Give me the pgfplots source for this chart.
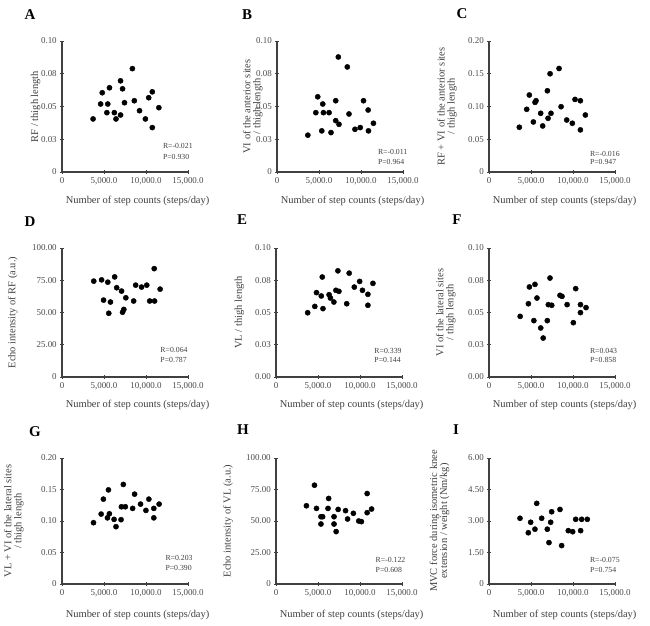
\documentclass[border=0pt]{standalone}
\usepackage{fontspec}
\setmainfont{Liberation Serif}
\usepackage{pgfplots}
\pgfplotsset{compat=1.18}
\newcommand{\twoline}[2]{\begin{tabular}{@{}c@{}}#1\\#2\end{tabular}}
\pgfplotsset{
  panel/.style={
    scale only axis, width=126bp,
    xmin=0, xmax=15000, ymin=0,
    axis lines=left, axis line style={-, line width=1.6bp, black!75},
    xtick={0,5000,10000,15000},
    xticklabels={0,{5,000.0},{10,000.0},{15,000.0}},
    scaled ticks=false,
    tick style={line width=0.9bp, black!75},
    major tick length=3.5bp, tick align=center,
    ticklabel style={font=\fontsize{9}{9}\selectfont, text=black!70},
    xlabel={Number of step counts (steps/day)},
    label style={font=\fontsize{10.5}{9.5}\selectfont, text=black!75},
    xlabel style={at={(axis description cs:0.6,-0.22)}, anchor=center},
    clip=false,
    anchor=south west,
  },
  dots/.style={only marks, mark=*, mark size=2.6bp, mark options={fill=black, draw=black}},
}
\tikzset{stat/.style={anchor=west, font=\fontsize{7.8}{8}\selectfont, text=black!75, inner sep=0pt}}
\begin{document}
\begin{tikzpicture}
\useasboundingbox (0,0) rectangle (650bp,626bp);
% ---------------- A
\begin{axis}[panel, at={(62bp,454bp)}, height=131bp, ymax=0.1,
  ytick={0,0.025,0.05,0.075,0.1}, yticklabels={0,0.03,0.05,0.08,0.10},
  ylabel={RF / thigh length}, ylabel style={at={(axis description cs:-0.21,0.5)}, anchor=center}]
\addplot[dots] coordinates {(3700,0.0405)(4790,0.0605)(4600,0.0519)(5450,0.0519)(5340,0.0453)(5650,0.0643)(6230,0.0453)(6430,0.0405)(6970,0.0696)(6970,0.0435)(7210,0.0635)(7440,0.0529)(8380,0.0789)(8610,0.0544)(9230,0.0468)(9930,0.0405)(10320,0.0567)(10750,0.0612)(10750,0.0339)(11530,0.0491)};
\node[stat] at (rel axis cs:0.80,0.20) {R=-0.021};
\node[stat] at (rel axis cs:0.80,0.115) {P=0.930};
\end{axis}
% ---------------- B
\begin{axis}[panel, at={(277bp,454bp)}, height=131bp, ymax=0.1,
  ytick={0,0.025,0.05,0.075,0.1}, yticklabels={0,0.03,0.05,0.08,0.10},
  ylabel={\twoline{VI of the anterior sites}{/ thigh length}}, ylabel style={at={(axis description cs:-0.19,0.5)}, anchor=center}]
\addplot[dots] coordinates {(3670,0.0281)(4620,0.0453)(4850,0.0574)(5330,0.0314)(5450,0.0519)(5530,0.0453)(6200,0.0453)(6430,0.0301)(6990,0.0544)(6990,0.0392)(7300,0.0878)(7380,0.0364)(8370,0.0802)(8570,0.0443)(9280,0.0326)(9910,0.0339)(10300,0.0544)(10850,0.0473)(10890,0.0314)(11480,0.0372)};
\node[stat] at (rel axis cs:0.80,0.15) {R=-0.011};
\node[stat] at (rel axis cs:0.80,0.08) {P=0.964};
\end{axis}
% ---------------- C
\begin{axis}[panel, at={(489bp,454bp)}, height=131bp, ymax=0.2,
  ytick={0,0.05,0.1,0.15,0.2}, yticklabels={0,0.05,0.10,0.15,0.20},
  ylabel={\twoline{RF + VI of the anterior sites}{/ thigh length}}, ylabel style={at={(axis description cs:-0.33,0.5)}, anchor=center}]
\addplot[dots] coordinates {(3610,0.0683)(4490,0.0957)(4800,0.1175)(5280,0.0764)(5480,0.1063)(5600,0.1088)(6150,0.0896)(6390,0.0703)(6950,0.124)(7030,0.082)(7270,0.150)(7380,0.0896)(8340,0.158)(8580,0.0997)(9250,0.0794)(9920,0.0744)(10240,0.1108)(10880,0.1088)(10880,0.0643)(11470,0.087)};
\node[stat] at (rel axis cs:0.80,0.14) {R=-0.016};
\node[stat] at (rel axis cs:0.80,0.08) {P=0.947};
\end{axis}
% ---------------- D
\begin{axis}[panel, at={(62bp,249bp)}, height=129bp, ymax=100,
  ytick={0,25,50,75,100}, yticklabels={0,25.00,50.00,75.00,100.00},
  ylabel={Echo intensity of RF (a.u.)}, ylabel style={at={(axis description cs:-0.39,0.5)}, anchor=center}]
\addplot[dots] coordinates {(3780,74.3)(4710,75.3)(5450,73.5)(4950,59.6)(5770,58.1)(5570,49.4)(6270,77.6)(6510,69.2)(7090,66.6)(7210,50.2)(7360,52.4)(7600,61.4)(8530,58.9)(8770,71.2)(9470,69.7)(10090,71.2)(10440,58.9)(10980,84.0)(11020,58.9)(11680,68.1)};
\node[stat] at (rel axis cs:0.78,0.21) {R=0.064};
\node[stat] at (rel axis cs:0.78,0.13) {P=0.787};
\end{axis}
% ---------------- E
\begin{axis}[panel, at={(276bp,249bp)}, height=129bp, ymax=0.1,
  ytick={0,0.025,0.05,0.075,0.1}, yticklabels={0.00,0.03,0.05,0.08,0.10},
  ylabel={VL / thigh length}, ylabel style={at={(axis description cs:-0.29,0.5)}, anchor=center}]
\addplot[dots] coordinates {(3770,0.0498)(4620,0.0547)(4820,0.0654)(5390,0.0628)(5510,0.0775)(5590,0.0530)(6320,0.0638)(6480,0.0612)(6890,0.0581)(7130,0.0672)(7370,0.0823)(7490,0.0664)(8420,0.0568)(8710,0.0805)(9320,0.0697)(9960,0.0741)(10290,0.0672)(10940,0.0641)(10940,0.0556)(11540,0.0726)};
\node[stat] at (rel axis cs:0.78,0.20) {R=0.339};
\node[stat] at (rel axis cs:0.78,0.135) {P=0.144};
\end{axis}
% ---------------- F
\begin{axis}[panel, at={(489bp,249bp)}, height=129bp, ymax=0.1,
  ytick={0,0.025,0.05,0.075,0.1}, yticklabels={0.00,0.03,0.05,0.08,0.10},
  ylabel={\twoline{VI of the lateral sites}{/ thigh length}}, ylabel style={at={(axis description cs:-0.34,0.5)}, anchor=center}]
\addplot[dots] coordinates {(3710,0.0470)(4690,0.0568)(4810,0.0698)(5340,0.0437)(5470,0.0718)(5710,0.0612)(6160,0.0380)(6450,0.0302)(6940,0.0437)(7060,0.0561)(7260,0.0767)(7470,0.0556)(8450,0.0633)(8690,0.0625)(9300,0.0561)(10040,0.0421)(10320,0.0685)(10890,0.0561)(10890,0.0499)(11550,0.0538)};
\node[stat] at (rel axis cs:0.80,0.20) {R=0.043};
\node[stat] at (rel axis cs:0.80,0.135) {P=0.858};
\end{axis}
% ---------------- G
\begin{axis}[panel, at={(62bp,42bp)}, height=126bp, ymax=0.2,
  ytick={0,0.05,0.1,0.15,0.2}, yticklabels={0,0.05,0.10,0.15,0.20},
  xlabel style={at={(axis description cs:0.6,-0.245)}},
  ylabel={\twoline{VL + VI of the lateral sites}{/ thigh length}}, ylabel style={at={(axis description cs:-0.38,0.5)}, anchor=center}]
\addplot[dots] coordinates {(3750,0.0973)(4660,0.111)(4930,0.1347)(5410,0.105)(5530,0.1494)(5640,0.1115)(6200,0.1026)(6430,0.0910)(7030,0.1021)(7070,0.1226)(7300,0.158)(7540,0.1226)(8410,0.1200)(8640,0.1426)(9350,0.1268)(9990,0.1168)(10340,0.1347)(10930,0.1200)(10930,0.1050)(11560,0.1268)};
\node[stat] at (rel axis cs:0.82,0.21) {R=0.203};
\node[stat] at (rel axis cs:0.82,0.125) {P=0.390};
\end{axis}
% ---------------- H
\begin{axis}[panel, at={(276bp,42bp)}, height=126bp, ymax=100,
  ytick={0,25,50,75,100}, yticklabels={0,25.00,50.00,75.00,100.00},
  xlabel style={at={(axis description cs:0.6,-0.245)}},
  ylabel={Echo intensity of VL (a.u.)}, ylabel style={at={(axis description cs:-0.38,0.5)}, anchor=center}]
\addplot[dots] coordinates {(3620,62.1)(4580,78.4)(4820,60.0)(5350,53.4)(5350,47.6)(5550,53.4)(6190,60.0)(6270,67.9)(6910,53.4)(6910,47.6)(7160,41.6)(7400,59.2)(8280,58.2)(8520,51.6)(9210,56.1)(9850,50.0)(10170,49.5)(10850,71.8)(10850,56.6)(11380,59.5)};
\node[stat] at (rel axis cs:0.79,0.19) {R=-0.122};
\node[stat] at (rel axis cs:0.79,0.115) {P=0.608};
\end{axis}
% ---------------- I
\begin{axis}[panel, at={(489bp,42bp)}, height=126bp, ymax=6,
  ytick={0,1.5,3,4.5,6}, yticklabels={0,1.50,3.00,4.50,6.00},
  xlabel style={at={(axis description cs:0.6,-0.245)}},
  ylabel={\twoline{MVC force during isometric knee}{extension / weight (Nm/kg)}}, ylabel style={at={(axis description cs:-0.39,0.5)}, anchor=center}]
\addplot[dots] coordinates {(5680,3.84)(7460,3.44)(8450,3.55)(3690,3.13)(4960,2.94)(6270,3.13)(7340,2.94)(4680,2.44)(5470,2.61)(6940,2.61)(7140,1.97)(8650,1.83)(9440,2.54)(9960,2.49)(10910,2.54)(10320,3.08)(11030,3.08)(11700,3.08)};
\node[stat] at (rel axis cs:0.80,0.19) {R=-0.075};
\node[stat] at (rel axis cs:0.80,0.11) {P=0.754};
\end{axis}
% panel letters
\node[font=\fontsize{15}{15}\bfseries\selectfont] at (30bp,611bp) {A};
\node[font=\fontsize{15}{15}\bfseries\selectfont] at (247bp,611bp) {B};
\node[font=\fontsize{15}{15}\bfseries\selectfont] at (462bp,612bp) {C};
\node[font=\fontsize{15}{15}\bfseries\selectfont] at (30bp,404bp) {D};
\node[font=\fontsize{15}{15}\bfseries\selectfont] at (242bp,406bp) {E};
\node[font=\fontsize{15}{15}\bfseries\selectfont] at (457bp,406bp) {F};
\node[font=\fontsize{15}{15}\bfseries\selectfont] at (35bp,194bp) {G};
\node[font=\fontsize{15}{15}\bfseries\selectfont] at (243bp,196bp) {H};
\node[font=\fontsize{15}{15}\bfseries\selectfont] at (456bp,196bp) {I};
\end{tikzpicture}
\end{document}
